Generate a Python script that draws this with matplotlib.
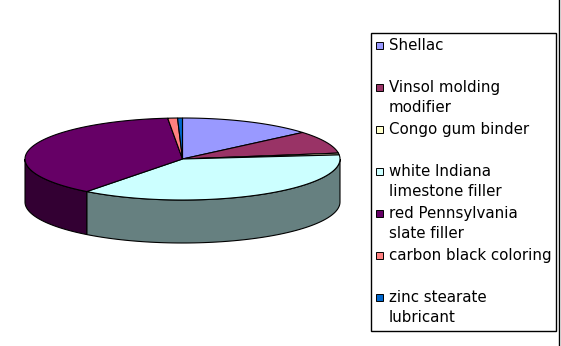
import matplotlib
matplotlib.use("Agg")
import matplotlib.pyplot as plt
import matplotlib.patches as mpatches
import numpy as np

# share of each ingredient (%), drawn clockwise from 12 o'clock
labels = [
    "Shellac",
    "Vinsol molding\nmodifier",
    "Congo gum binder",
    "white Indiana\nlimestone filler",
    "red Pennsylvania\nslate filler",
    "carbon black coloring",
    "zinc stearate\nlubricant",
]
values = [13.8, 8.9, 0.7, 37.0, 38.1, 1.0, 0.5]
colors = ["#9999FF", "#993366", "#FFFFCC", "#CCFFFF", "#660066", "#FF8080", "#0066CC"]

W, H = 561, 346
CX, CY, A, B, DEPTH = 182.5, 159, 157.5, 41, 43


def rim(theta_deg, drop=0.0):
    t = np.radians(theta_deg)
    return np.column_stack([CX + A * np.sin(t), CY - B * np.cos(t) + drop])


def shade(hex_color, f=0.5):
    rgb = np.array(matplotlib.colors.to_rgb(hex_color))
    return tuple(rgb * f)


fig = plt.figure(figsize=(W / 100, H / 100), dpi=100)
ax = fig.add_axes([0, 0, 1, 1])
ax.set_xlim(0, W)
ax.set_ylim(H, 0)
ax.axis("off")

bounds = np.concatenate([[0], np.cumsum(values)]) / np.sum(values) * 360.0

# side walls (front half only, 90..270 deg)
for i, c in enumerate(colors):
    lo, hi = max(bounds[i], 90), min(bounds[i + 1], 270)
    if hi <= lo:
        continue
    th = np.linspace(lo, hi, 80)
    pts = np.vstack([rim(th), rim(th[::-1], DEPTH)])
    ax.add_patch(mpatches.Polygon(pts, closed=True, facecolor=shade(c),
                                  edgecolor="black", linewidth=0.8))

# top surface
for i, c in enumerate(colors):
    th = np.linspace(bounds[i], bounds[i + 1], 120)
    pts = np.vstack([[CX, CY], rim(th)])
    ax.add_patch(mpatches.Polygon(pts, closed=True, facecolor=c,
                                  edgecolor="black", linewidth=0.8))

# legend box
ax.add_patch(mpatches.Rectangle((371, 33), 185.5, 297.5, facecolor="white",
                                edgecolor="black", linewidth=1.0))
for i, (lab, c) in enumerate(zip(labels, colors)):
    y0 = 45.5 + i * 42
    ax.add_patch(mpatches.Rectangle((376, y0 - 3.5), 7, 7, facecolor=c,
                                    edgecolor="black", linewidth=0.7))
    for j, line in enumerate(lab.split("\n")):
        ax.text(389, y0 + j * 19.5, line, va="center", ha="left",
                fontsize=10.8, family="DejaVu Sans")

# chart area right border
ax.plot([559.5, 559.5], [0, H], color="black", linewidth=1.0)

fig.savefig("out.png", dpi=100)
